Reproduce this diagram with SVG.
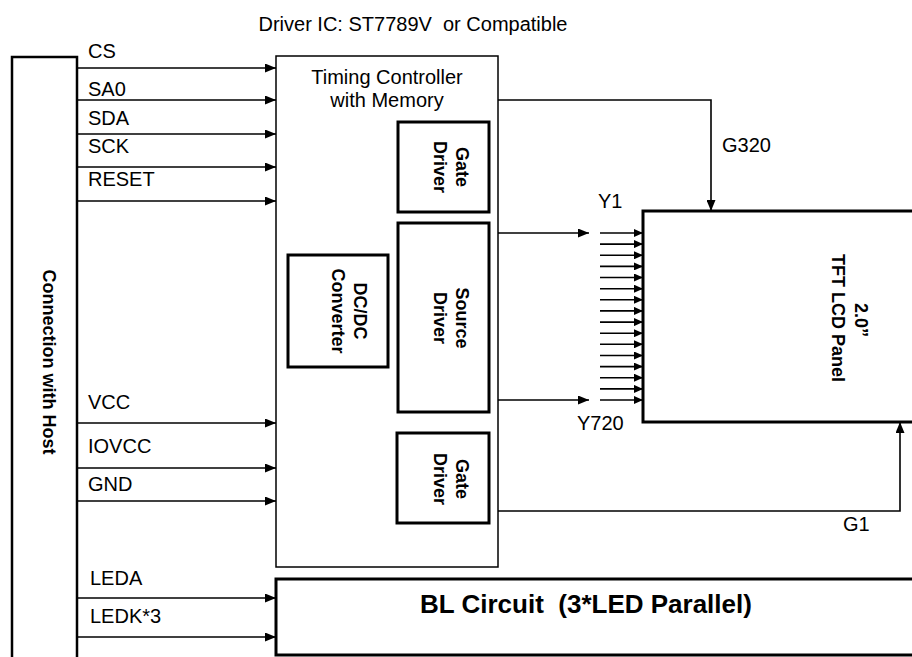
<svg xmlns="http://www.w3.org/2000/svg" width="912" height="657" viewBox="0 0 912 657">
<style>
text{font-family:"Liberation Sans",Arial,sans-serif;fill:#000;}
.lbl{font-size:20px;}
.b{font-size:18px;font-weight:bold;text-anchor:middle;}
.pre{white-space:pre;}
.box{fill:#fff;stroke:#000;}
.thin{stroke-width:1.5;}
.thick{stroke-width:3;}
.wire{fill:none;stroke:#000;stroke-width:1.6;}
</style>
<defs>
<marker id="arr" markerUnits="userSpaceOnUse" markerWidth="11" markerHeight="9" refX="11" refY="4.5" orient="auto"><path d="M0,0 L11,4.5 L0,9 z" fill="#000"/></marker>
<marker id="sarr" markerUnits="userSpaceOnUse" markerWidth="9" markerHeight="8" refX="9" refY="4" orient="auto"><path d="M0,0 L9,4 L0,8 z" fill="#000"/></marker>
</defs>
<rect width="912" height="657" fill="#fff"/>
<text class="lbl pre" x="413" y="31" text-anchor="middle">Driver IC: ST7789V  or Compatible</text>

<g id="host">
<path d="M12,657 V57 H77 V657" fill="none" stroke="#000" stroke-width="2.5"/>
<text class="b" transform="translate(43,362) rotate(90)">Connection with Host</text>
</g>

<g id="timing-controller">
<rect class="box thin" x="276" y="56" width="222" height="511"/>
<text class="lbl" x="387" y="84" text-anchor="middle">Timing Controller</text>
<text class="lbl" x="387" y="107" text-anchor="middle">with Memory</text>
</g>

<g id="gate-driver-top">
<rect class="box thick" x="398" y="122" width="91" height="90"/>
<text class="b" transform="translate(456,167) rotate(90)">Gate</text>
<text class="b" transform="translate(434,167) rotate(90)">Driver</text>
</g>

<g id="source-driver">
<rect class="box thick" x="398" y="223" width="91" height="189"/>
<text class="b" transform="translate(456,318) rotate(90)">Source</text>
<text class="b" transform="translate(434,318) rotate(90)">Driver</text>
</g>

<g id="dcdc">
<rect class="box thick" x="288" y="255" width="100" height="112"/>
<text class="b" transform="translate(354,311) rotate(90)">DC/DC</text>
<text class="b" transform="translate(332,311) rotate(90)">Converter</text>
</g>

<g id="gate-driver-bottom">
<rect class="box thick" x="397" y="433" width="92" height="90"/>
<text class="b" transform="translate(456,479) rotate(90)">Gate</text>
<text class="b" transform="translate(434,479) rotate(90)">Driver</text>
</g>

<g id="panel">
<rect class="box thick" x="643" y="211" width="300" height="211"/>
<text class="b" transform="translate(855,320) rotate(90)">2.0”</text>
<text class="b" transform="translate(832,318) rotate(90)">TFT LCD Panel</text>
</g>

<g id="bl-circuit">
<rect class="box thick" x="276" y="579" width="660" height="76"/>
<text class="pre" x="586" y="613" text-anchor="middle" font-size="26" font-weight="bold">BL Circuit  (3*LED Parallel)</text>
</g>

<g id="connectors">
<line class="wire" x1="77" y1="68" x2="276" y2="68" marker-end="url(#arr)"/>
<line class="wire" x1="77" y1="100" x2="276" y2="100" marker-end="url(#arr)"/>
<line class="wire" x1="77" y1="134" x2="276" y2="134" marker-end="url(#arr)"/>
<line class="wire" x1="77" y1="167" x2="276" y2="167" marker-end="url(#arr)"/>
<line class="wire" x1="77" y1="201" x2="276" y2="201" marker-end="url(#arr)"/>
<line class="wire" x1="77" y1="423" x2="276" y2="423" marker-end="url(#arr)"/>
<line class="wire" x1="77" y1="468" x2="276" y2="468" marker-end="url(#arr)"/>
<line class="wire" x1="77" y1="501" x2="276" y2="501" marker-end="url(#arr)"/>
<line class="wire" x1="77" y1="598" x2="276" y2="598" marker-end="url(#arr)"/>
<line class="wire" x1="77" y1="637" x2="276" y2="637" marker-end="url(#arr)"/>
<path class="wire" d="M498,100 H711 V211" marker-end="url(#arr)"/>
<path class="wire" d="M498,511 H900 V422" marker-end="url(#arr)"/>
<line class="wire" x1="498" y1="233" x2="589" y2="233" marker-end="url(#arr)"/>
<line class="wire" x1="498" y1="400" x2="589" y2="400" marker-end="url(#arr)"/>
<g class="fan">
<line class="wire" x1="600" y1="233" x2="643" y2="233" marker-end="url(#sarr)"/>
<line class="wire" x1="600" y1="244.1" x2="643" y2="244.1" marker-end="url(#sarr)"/>
<line class="wire" x1="600" y1="255.3" x2="643" y2="255.3" marker-end="url(#sarr)"/>
<line class="wire" x1="600" y1="266.4" x2="643" y2="266.4" marker-end="url(#sarr)"/>
<line class="wire" x1="600" y1="277.5" x2="643" y2="277.5" marker-end="url(#sarr)"/>
<line class="wire" x1="600" y1="288.7" x2="643" y2="288.7" marker-end="url(#sarr)"/>
<line class="wire" x1="600" y1="299.8" x2="643" y2="299.8" marker-end="url(#sarr)"/>
<line class="wire" x1="600" y1="310.9" x2="643" y2="310.9" marker-end="url(#sarr)"/>
<line class="wire" x1="600" y1="322.1" x2="643" y2="322.1" marker-end="url(#sarr)"/>
<line class="wire" x1="600" y1="333.2" x2="643" y2="333.2" marker-end="url(#sarr)"/>
<line class="wire" x1="600" y1="344.3" x2="643" y2="344.3" marker-end="url(#sarr)"/>
<line class="wire" x1="600" y1="355.5" x2="643" y2="355.5" marker-end="url(#sarr)"/>
<line class="wire" x1="600" y1="366.6" x2="643" y2="366.6" marker-end="url(#sarr)"/>
<line class="wire" x1="600" y1="377.7" x2="643" y2="377.7" marker-end="url(#sarr)"/>
<line class="wire" x1="600" y1="388.9" x2="643" y2="388.9" marker-end="url(#sarr)"/>
<line class="wire" x1="600" y1="400" x2="643" y2="400" marker-end="url(#sarr)"/>
</g>
</g>

<g id="labels">
<text class="lbl" x="88" y="58">CS</text>
<text class="lbl" x="88" y="96">SA0</text>
<text class="lbl" x="88" y="125">SDA</text>
<text class="lbl" x="88" y="153">SCK</text>
<text class="lbl" x="88" y="186">RESET</text>
<text class="lbl" x="88" y="409">VCC</text>
<text class="lbl" x="88" y="453">IOVCC</text>
<text class="lbl" x="88" y="491">GND</text>
<text class="lbl" x="90" y="585">LEDA</text>
<text class="lbl" x="90" y="623">LEDK*3</text>
<text class="lbl" x="722" y="152">G320</text>
<text class="lbl" x="598" y="208">Y1</text>
<text class="lbl" x="577" y="430">Y720</text>
<text class="lbl" x="843" y="531">G1</text>
</g>
</svg>
